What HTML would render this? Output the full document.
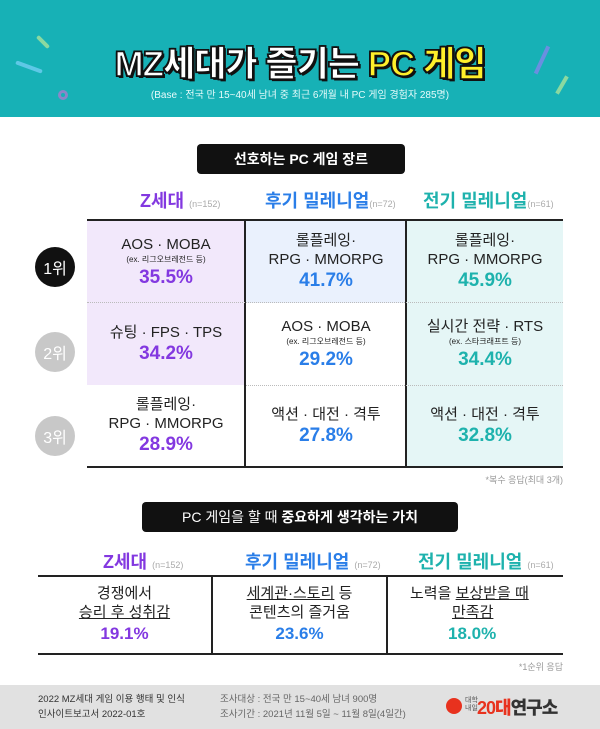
<!DOCTYPE html>
<html><head><meta charset="utf-8"><style>
*{margin:0;padding:0;box-sizing:border-box}
body{width:600px;height:729px;background:#fff;position:relative;overflow:hidden;font-family:"Liberation Sans","Noto Sans CJK KR",sans-serif;color:#222}
.a{position:absolute}
.hdr{left:0;top:0;width:600px;height:117px;background:#17b1b6}
.title{left:0;width:600px;top:36px;text-align:center;font-size:35px;font-weight:900;color:#fff;letter-spacing:-1px;-webkit-text-stroke:1.5px #111;text-shadow:2px 2px 0 #111,-1px -1px 0 #111,1px -1px 0 #111,-1px 1px 0 #111}
.sub{left:0;width:600px;top:86px;text-align:center;font-size:10px;color:#e6fbfb}
.pill{background:#111;color:#fff;border-radius:4px;text-align:center;font-size:14px;font-weight:bold}
.ch{font-size:18px;font-weight:bold;white-space:nowrap}
.ch small{font-size:9px;color:#aaa;font-weight:normal}
.pu{color:#8338e0}.bl{color:#2a7ee8}.te{color:#1eb2ad}
.cell{display:flex;flex-direction:column;align-items:center;justify-content:center;text-align:center;font-size:15px;line-height:19px}
.cell .ex{font-size:8px;line-height:12px}
.cell .p{font-size:19px;font-weight:bold;line-height:24px}
.rk{width:40px;height:40px;border-radius:50%;color:#fff;font-size:16px;display:flex;align-items:center;justify-content:center;left:35px}
.u{text-decoration:underline}
</style></head><body>
<div class="a hdr">
<div class="a" style="left:35px;top:40px;width:16px;height:4px;background:#8bd9a0;transform:rotate(45deg);border-radius:2px"></div>
<div class="a" style="left:15px;top:65px;width:28px;height:4px;background:#5ec8e6;transform:rotate(20deg);border-radius:2px"></div>
<div class="a" style="left:58px;top:90px;width:10px;height:10px;border:3px solid #8b86c9;border-radius:50%"></div>
<div class="a" style="left:540px;top:45px;width:4px;height:30px;background:#6a8fe0;transform:rotate(25deg)"></div>
<div class="a" style="left:560px;top:75px;width:4px;height:20px;background:#8bd9a0;transform:rotate(30deg)"></div>
</div>
<div class="a title">MZ세대가 즐기는 <span style="color:#ffef2a">PC 게임</span></div>
<div class="a sub">(Base : 전국 만 15~40세 남녀 중 최근 6개월 내 PC 게임 경험자 285명)</div>

<div class="a pill" style="left:197px;top:144px;width:208px;height:30px;line-height:30px">선호하는 PC 게임 장르</div>
<div class="a ch pu" style="left:140px;top:187px">Z세대 <small>(n=152)</small></div>
<div class="a ch bl" style="left:265px;top:187px">후기 밀레니얼<small>(n=72)</small></div>
<div class="a ch te" style="left:423px;top:187px">전기 밀레니얼<small>(n=61)</small></div>

<div class="a" style="left:87px;top:220px;width:158px;height:165px;background:#f2e8fb"></div>
<div class="a" style="left:245px;top:220px;width:161px;height:83px;background:#eaf1fd"></div>
<div class="a" style="left:406px;top:220px;width:157px;height:247px;background:#e5f6f6"></div>
<div class="a" style="left:87px;top:219px;width:476px;height:2px;background:#222"></div>
<div class="a" style="left:87px;top:466px;width:476px;height:2px;background:#222"></div>
<div class="a" style="left:244px;top:219px;width:2px;height:249px;background:#222"></div>
<div class="a" style="left:405px;top:219px;width:2px;height:249px;background:#222"></div>
<div class="a" style="left:87px;top:302px;width:476px;border-top:1px dotted #bbb"></div>
<div class="a" style="left:246px;top:385px;width:317px;border-top:1px dotted #bbb"></div>

<div class="a rk" style="top:247px;background:#111">1위</div>
<div class="a rk" style="top:332px;background:#c8c8c8">2위</div>
<div class="a rk" style="top:416px;background:#c8c8c8">3위</div>

<div class="a cell" style="left:87px;top:221px;width:158px;height:82px"><div>AOS · MOBA</div><div class="ex">(ex. 리그오브레전드 등)</div><div class="p pu">35.5%</div></div>
<div class="a cell" style="left:246px;top:221px;width:160px;height:82px"><div>롤플레잉·</div><div>RPG · MMORPG</div><div class="p bl">41.7%</div></div>
<div class="a cell" style="left:407px;top:221px;width:156px;height:82px"><div>롤플레잉·</div><div>RPG · MMORPG</div><div class="p te">45.9%</div></div>
<div class="a cell" style="left:87px;top:303px;width:158px;height:82px"><div>슈팅 · FPS · TPS</div><div class="p pu">34.2%</div></div>
<div class="a cell" style="left:246px;top:303px;width:160px;height:82px"><div>AOS · MOBA</div><div class="ex">(ex. 리그오브레전드 등)</div><div class="p bl">29.2%</div></div>
<div class="a cell" style="left:407px;top:303px;width:156px;height:82px"><div>실시간 전략 · RTS</div><div class="ex">(ex. 스타크래프트 등)</div><div class="p te">34.4%</div></div>
<div class="a cell" style="left:87px;top:385px;width:158px;height:82px"><div>롤플레잉·</div><div>RPG · MMORPG</div><div class="p pu">28.9%</div></div>
<div class="a cell" style="left:246px;top:385px;width:160px;height:82px"><div>액션 · 대전 · 격투</div><div class="p bl">27.8%</div></div>
<div class="a cell" style="left:407px;top:385px;width:156px;height:82px"><div>액션 · 대전 · 격투</div><div class="p te">32.8%</div></div>
<div class="a" style="right:37px;top:473px;font-size:9px;color:#999">*복수 응답(최대 3개)</div>

<div class="a pill" style="left:142px;top:502px;width:316px;height:30px;line-height:30px"><span style="font-weight:normal">PC 게임을 할 때</span> 중요하게 생각하는 가치</div>
<div class="a ch pu" style="left:103px;top:548px">Z세대 <small>(n=152)</small></div>
<div class="a ch bl" style="left:245px;top:548px">후기 밀레니얼 <small>(n=72)</small></div>
<div class="a ch te" style="left:418px;top:548px">전기 밀레니얼 <small>(n=61)</small></div>
<div class="a" style="left:38px;top:575px;width:525px;height:2px;background:#222"></div>
<div class="a" style="left:38px;top:653px;width:525px;height:2px;background:#222"></div>
<div class="a" style="left:211px;top:575px;width:2px;height:80px;background:#222"></div>
<div class="a" style="left:386px;top:575px;width:2px;height:80px;background:#222"></div>
<div class="a cell" style="left:38px;top:577px;width:173px;height:76px"><div>경쟁에서</div><div class="u">승리 후 성취감</div><div class="p pu" style="font-size:17px">19.1%</div></div>
<div class="a cell" style="left:213px;top:577px;width:173px;height:76px"><div><span class="u">세계관·스토리</span> 등</div><div>콘텐츠의 즐거움</div><div class="p bl" style="font-size:17px">23.6%</div></div>
<div class="a cell" style="left:388px;top:577px;width:175px;height:76px;align-items:flex-start;padding-left:22px"><div>노력을 <span class="u">보상받을 때</span></div><div class="u" style="margin-left:42px">만족감</div><div class="p te" style="font-size:17px;margin-left:38px">18.0%</div></div>
<div class="a" style="right:37px;top:660px;font-size:9px;color:#999">*1순위 응답</div>

<div class="a" style="left:0;top:685px;width:600px;height:44px;background:#e1e1e1"></div>
<div class="a" style="left:38px;top:692px;font-size:9.5px;line-height:15px;color:#333">2022 MZ세대 게임 이용 행태 및 인식<br>인사이트보고서 2022-01호</div>
<div class="a" style="left:220px;top:692px;font-size:9.5px;line-height:15px;color:#666">조사대상 : 전국 만 15~40세 남녀 900명<br>조사기간 : 2021년 11월 5일 ~ 11월 8일(4일간)</div>
<div class="a" style="left:446px;top:698px;width:16px;height:16px;border-radius:50%;background:#e8321e"></div>
<div class="a" style="left:465px;top:697px;font-size:7px;line-height:8px;color:#555">대학<br>내일</div>
<div class="a" style="left:477px;top:694px;font-size:18px;font-weight:900;color:#e8321e;letter-spacing:-1px">20대<span style="color:#333">연구소</span></div>
</body></html>
